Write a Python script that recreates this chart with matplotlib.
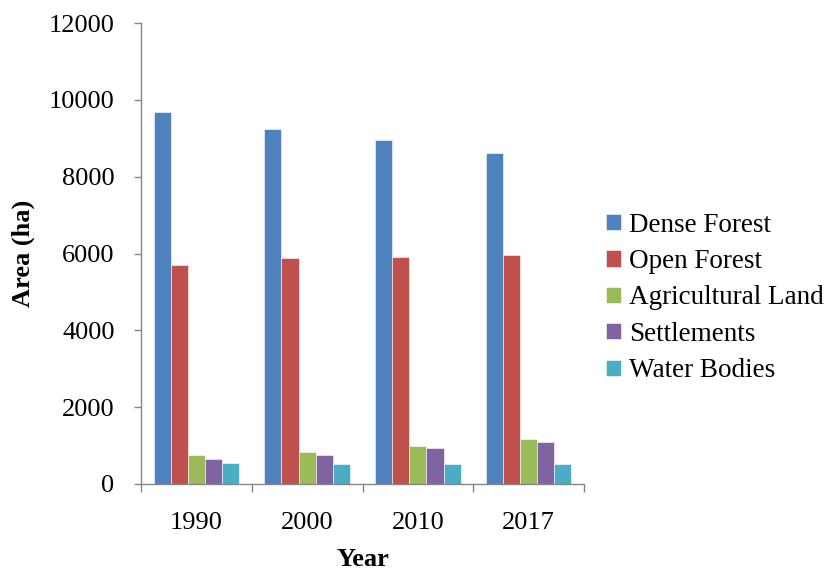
import matplotlib
matplotlib.use("Agg")
import matplotlib.pyplot as plt
import numpy as np

years = ["1990", "2000", "2010", "2017"]
series_names = ["Dense Forest", "Open Forest", "Agricultural Land", "Settlements", "Water Bodies"]
dense_forest = [9680, 9240, 8960, 8610]
open_forest = [5700, 5880, 5900, 5950]
agricultural_land = [750, 830, 1000, 1170]
settlements = [650, 750, 935, 1105]
water_bodies = [540, 520, 520, 520]
colors = ["#4F81BD", "#C0504D", "#9BBB59", "#8064A2", "#4BACC6"]

plt.rcParams['font.family'] = ['Liberation Serif', 'DejaVu Serif']

fig = plt.figure(figsize=(8.32, 5.72), dpi=100)
ax = fig.add_axes([141/832, 1-484/572, (584-141)/832, (484-23)/572])

data = [dense_forest, open_forest, agricultural_land, settlements, water_bodies]
x = np.arange(len(years))
group = 0.773
w = group / len(data)
for k, (vals, name, c) in enumerate(zip(data, series_names, colors)):
    ax.bar(x - group/2 + w*(k+0.5), vals, width=w, color=c, label=name,
           edgecolor="white", linewidth=0.4)

ax.set_xlim(-0.5, len(years)-0.5)
ax.set_ylim(0, 12000)
ax.set_yticks(np.arange(0, 12001, 2000))
ax.set_xticks(x)
ax.set_xticklabels(years)
ax.set_xticks(np.arange(-0.5, len(years), 1.0), minor=True)
ax.tick_params(axis='x', which='major', length=0, pad=20, labelsize=19)
ax.tick_params(axis='x', which='minor', length=6, color='#868686', width=1)
ax.tick_params(axis='y', length=5, color='#868686', width=1, pad=14, labelsize=19)

for s in ['top', 'right']:
    ax.spines[s].set_visible(False)
for s in ['left', 'bottom']:
    ax.spines[s].set_color('#868686')
    ax.spines[s].set_linewidth(1)

ax.set_ylabel("Area (ha)", fontsize=19, fontweight='bold', labelpad=10)
ax.set_xlabel("Year", fontsize=19, fontweight='bold', labelpad=10)

leg = ax.legend(loc='center left', frameon=False,
                fontsize=19.5, handlelength=0.55, handleheight=0.55, handletextpad=0.3,
                labelspacing=0.42, borderaxespad=0, borderpad=0)
leg.set_bbox_to_anchor((606/832, 1-298/572), transform=fig.transFigure)

fig.savefig("out.png", dpi=100)
